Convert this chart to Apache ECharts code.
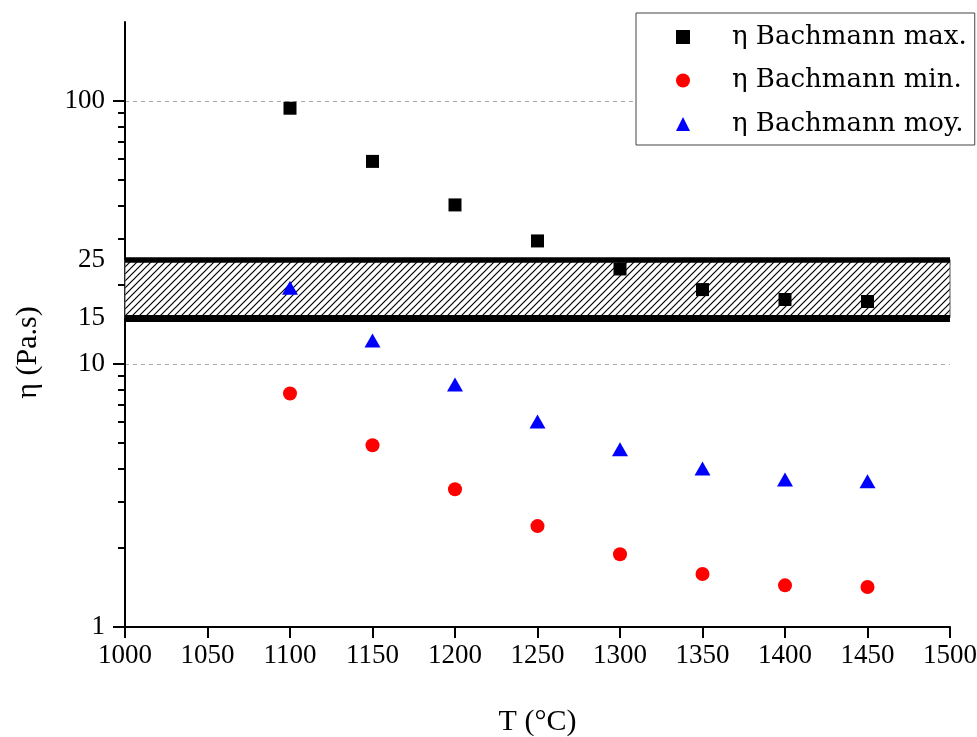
<!DOCTYPE html>
<html>
<head>
<meta charset="utf-8">
<script src="https://cdn.jsdelivr.net/npm/echarts@6/dist/echarts.min.js"></script>
<style>
html,body{margin:0;padding:0;background:#fff;}
#chart{width:977px;height:737px;}
</style>
</head>
<body>
<div id="chart"></div>
<script>
// ---- data ----
const temps = [1100, 1150, 1200, 1250, 1300, 1350, 1400, 1450];
const etaMax = [94, 59, 40.3, 29.4, 23.0, 19.2, 17.6, 17.3];
const etaMin = [7.73, 4.91, 3.34, 2.42, 1.89, 1.59, 1.44, 1.42];
const etaMoy = [19.5, 12.3, 8.36, 6.05, 4.74, 4.01, 3.64, 3.58];
const seriesNames = ['η Bachmann max.', 'η Bachmann min.', 'η Bachmann moy.'];
const bandRange = [15, 25];
const yMajorTicks = [1, 10, 100];
const yLabelValues = [1, 10, 15, 25, 100];
const yMinorTicks = [2, 3, 4, 5, 6, 7, 8, 9, 20, 30, 40, 50, 60, 70, 80, 90];
const xRange = [1000, 1500];
const yRange = [1, 200];

function pairs(ys) { return temps.map((t, i) => [t, ys[i]]); }

function hatchPattern() {
  const s = 7;
  const c = document.createElement('canvas');
  c.width = s; c.height = s;
  const g = c.getContext('2d');
  g.fillStyle = '#fff';
  g.fillRect(0, 0, s, s);
  g.strokeStyle = '#000';
  g.lineWidth = 1.2;
  g.beginPath();
  g.moveTo(-1, s + 1); g.lineTo(s + 1, -1);
  g.moveTo(-1, 1); g.lineTo(1, -1);
  g.moveTo(s - 1, s + 1); g.lineTo(s + 1, s - 1);
  g.stroke();
  return c;
}

const serif = 'Liberation Serif';
const chart = echarts.init(document.getElementById('chart'), null, {renderer: 'canvas'});

const option = {
  backgroundColor: '#fff',
  animation: false,
  grid: {left: 125, right: 27, top: 22, bottom: 110, containLabel: false, outerBoundsMode: 'none'},
  legend: {
    orient: 'vertical',
    left: 636,
    top: 13,
    padding: [9, 8, 6, 40],
    itemWidth: 14,
    itemHeight: 14,
    itemGap: 13.5,
    borderColor: '#444',
    borderWidth: 1,
    backgroundColor: '#fff',
    textStyle: {fontFamily: 'DejaVu Serif', fontSize: 26, color: '#000', lineHeight: 30, padding: [0, 0, 0, 37]},
    data: [
      {name: seriesNames[0], icon: 'rect'},
      {name: seriesNames[1], icon: 'circle'},
      {name: seriesNames[2], icon: 'triangle'}
    ]
  },
  xAxis: {
    type: 'value',
    min: xRange[0], max: xRange[1], interval: 50,
    name: 'T (°C)',
    nameLocation: 'middle',
    nameGap: 80,
    nameTextStyle: {fontFamily: serif, fontSize: 30, color: '#000'},
    axisLine: {show: true, onZero: false, lineStyle: {color: '#000', width: 2}},
    axisTick: {show: true, inside: false, length: 11, lineStyle: {color: '#000', width: 2}},
    axisLabel: {fontFamily: serif, fontSize: 27, color: '#000', margin: 15, formatter: v => String(v)},
    splitLine: {show: false}
  },
  yAxis: {
    type: 'log', logBase: 10,
    min: yRange[0], max: yRange[1],
    position: 'left',
    name: 'η (Pa.s)',
    nameLocation: 'middle',
    nameGap: 82,
    nameTextStyle: {fontFamily: serif, fontSize: 30, color: '#000', padding: [0, 56, 0, 0]},
    axisLine: {show: true, onZero: false, lineStyle: {color: '#000', width: 2}},
    axisTick: {show: true, length: 12, customValues: yMajorTicks, lineStyle: {color: '#000', width: 2}},
    axisLabel: {fontFamily: serif, fontSize: 27, color: '#000', margin: 20, customValues: yLabelValues, formatter: v => String(v)},
    splitLine: {show: true, lineStyle: {color: '#aaa', width: 1, type: [4, 4]}}
  },
  series: [
    {
      name: 'band',
      type: 'scatter',
      data: [],
      z: 1,
      silent: true,
      markArea: {
        silent: true,
        itemStyle: {color: {image: hatchPattern(), repeat: 'repeat'}, borderColor: '#555', borderWidth: 1},
        data: [[{yAxis: bandRange[0], xAxis: xRange[0]}, {yAxis: bandRange[1], xAxis: xRange[1]}]]
      },
      markLine: {
        silent: true,
        symbol: 'none',
        label: {show: false},
        data: [
          {yAxis: bandRange[0], lineStyle: {color: '#000', width: 7, type: 'solid'}},
          {yAxis: bandRange[1], lineStyle: {color: '#000', width: 5.5, type: 'solid'}}
        ]
      }
    },
    {
      name: 'minorTicks',
      type: 'custom',
      clip: false,
      silent: true,
      z: 10,
      data: yMinorTicks.map(v => [xRange[0], v]),
      renderItem: function (params, api) {
        const p = api.coord([api.value(0), api.value(1)]);
        const y = Math.round(p[1]);
        const x = Math.round(p[0]);
        return {
          type: 'rect',
          shape: {x: x - 7, y: y - 1, width: 7, height: 2},
          style: {fill: '#000'}
        };
      }
    },
    {
      name: seriesNames[0], type: 'scatter', z: 5,
      symbol: 'rect', symbolSize: 13,
      itemStyle: {color: '#000', opacity: 1},
      data: pairs(etaMax)
    },
    {
      name: seriesNames[1], type: 'scatter', z: 5,
      symbol: 'circle', symbolSize: 14,
      itemStyle: {color: '#ff0000', opacity: 1},
      data: pairs(etaMin)
    },
    {
      name: seriesNames[2], type: 'scatter', z: 5,
      symbol: 'triangle', symbolSize: [16, 14],
      itemStyle: {color: '#0000ff', opacity: 1},
      data: pairs(etaMoy)
    }
  ]
};
chart.setOption(option);
</script>
</body>
</html>
